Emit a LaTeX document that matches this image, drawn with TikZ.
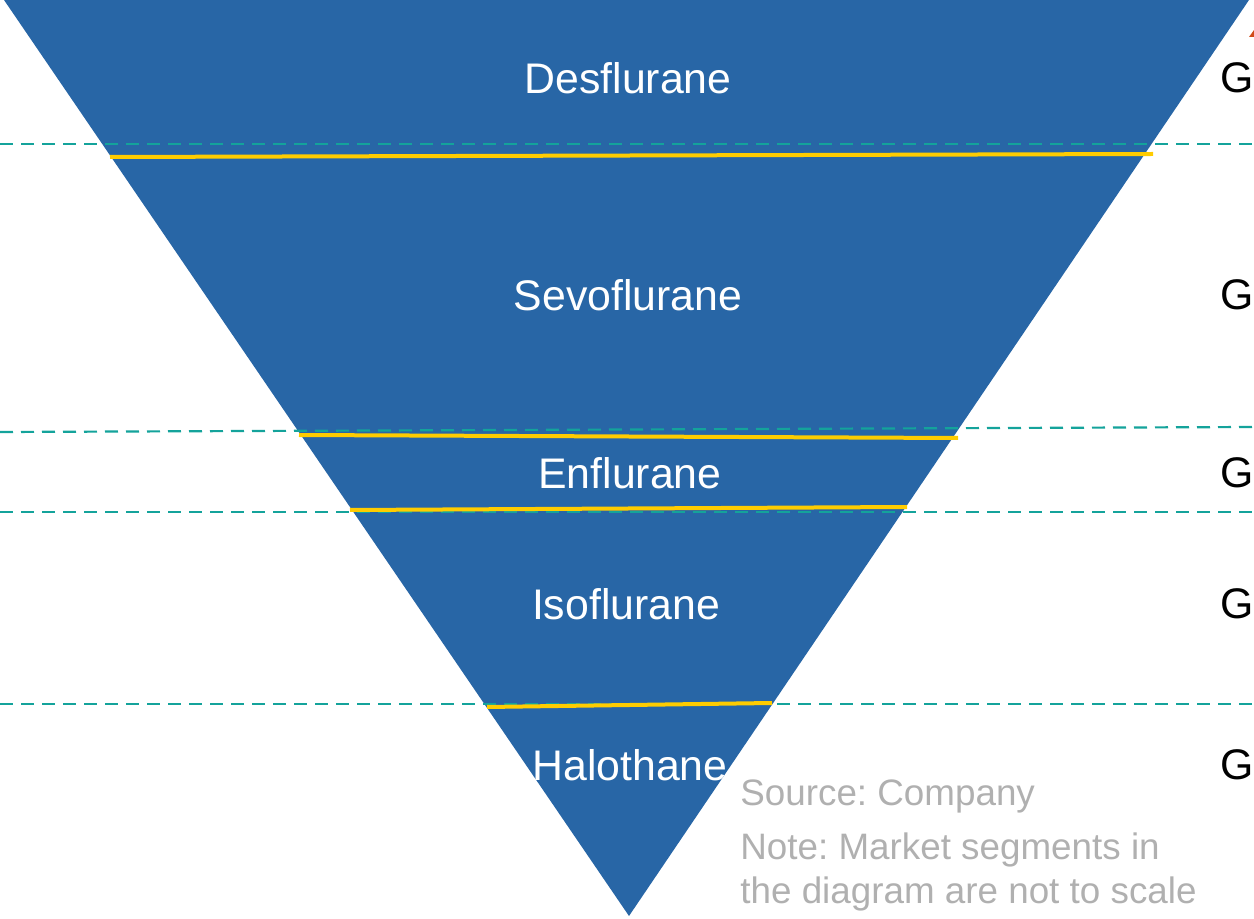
\documentclass[tikz,border=0pt]{standalone}
\usepackage{fontspec}
\setmainfont{Liberation Sans}
\usepackage{tikz}
\usetikzlibrary{positioning}
\usetikzlibrary{calc}
\pgfdeclarelayer{nodelayer}
\pgfdeclarelayer{edgelayer}
\pgfsetlayers{edgelayer,nodelayer,main}
\definecolor{funnelblue}{RGB}{40,102,166}
\definecolor{cutyellow}{RGB}{255,204,0}
\definecolor{guideteal}{RGB}{20,163,155}
\definecolor{notegray}{RGB}{176,176,176}
\definecolor{tipred}{RGB}{208,74,26}
\frenchspacing
\tikzstyle{none}=[inner sep=0pt]
\tikzset{segment/.style={inner sep=0pt, text=white, font=\fontsize{21.4}{25}\selectfont}}
\tikzset{grade/.style={inner sep=0pt, anchor=west, text=black, font=\fontsize{21.4}{25}\selectfont}}
\tikzset{remark/.style={inner sep=0pt, anchor=base west, text=notegray, font=\fontsize{18.4}{22}\selectfont}}
\tikzset{cut/.style={line width=2pt, color=cutyellow}}
\tikzset{guide/.style={line width=1.1pt, color=guideteal, dash pattern=on 6.5pt off 4pt}}

\begin{document}
\begin{tikzpicture}[x=0.5pt, y=-0.5pt]
        \useasboundingbox (0,0) rectangle (1254,919);
        \clip (0,0) rectangle (1254,919);
        \begin{pgfonlayer}{nodelayer}
            \node [style=none] (0) at (4, 0) {};
            \node [style=none] (1) at (1249, 0) {};
            \node [style=none] (2) at (629, 916) {};
            \node [style=none] (3) at (110, 157) {};
            \node [style=none] (4) at (1153, 154) {};
            \node [style=none] (5) at (299, 435) {};
            \node [style=none] (6) at (958, 438) {};
            \node [style=none] (7) at (350, 510) {};
            \node [style=none] (8) at (907, 507) {};
            \node [style=none] (9) at (487, 707) {};
            \node [style=none] (10) at (772, 703) {};
            \node [style=none] (11) at (0, 144) {};
            \node [style=none] (12) at (1254, 144) {};
            \node [style=none] (13) at (0, 432) {};
            \node [style=none] (14) at (1254, 427) {};
            \node [style=none] (15) at (0, 512) {};
            \node [style=none] (16) at (1254, 512) {};
            \node [style=none] (17) at (0, 704) {};
            \node [style=none] (18) at (1254, 704) {};
            \node [style=segment] (20) at (628, 78) {Desflurane};
            \node [style=segment] (21) at (628, 295) {Sevoflurane};
            \node [style=segment] (22) at (630, 473) {Enflurane};
            \node [style=segment] (23) at (626, 604) {Isoflurane};
            \node [style=segment] (24) at (630, 765) {Halothane};
            \node [style=grade] (30) at (1220, 78) {G};
            \node [style=grade] (31) at (1220, 295) {G};
            \node [style=grade] (32) at (1220, 473) {G};
            \node [style=grade] (33) at (1220, 604) {G};
            \node [style=grade] (34) at (1220, 765) {G};
            \node [style=remark] (40) at (740, 805) {Source: Company};
            \node [style=remark] (41) at (740, 859) {Note: Market segments in};
            \node [style=remark] (42) at (740, 903) {the diagram are not to scale};
        \end{pgfonlayer}
        \begin{pgfonlayer}{edgelayer}
            \fill [funnelblue] (0.center) -- (1.center) -- (2.center) -- cycle;
            \fill [tipred] (1249, 37) -- (1254, 30) -- (1254, 37) -- cycle;
            \draw [style=guide] (11.center) to (12.center);
            \draw [style=guide] (13.center) to (14.center);
            \draw [style=guide] (15.center) to (16.center);
            \draw [style=guide] (17.center) to (18.center);
            \draw [style=cut] (3.center) to (4.center);
            \draw [style=cut] (5.center) to (6.center);
            \draw [style=cut] (7.center) to (8.center);
            \draw [style=cut] (9.center) to (10.center);
        \end{pgfonlayer}
    \end{tikzpicture}
\end{document}
